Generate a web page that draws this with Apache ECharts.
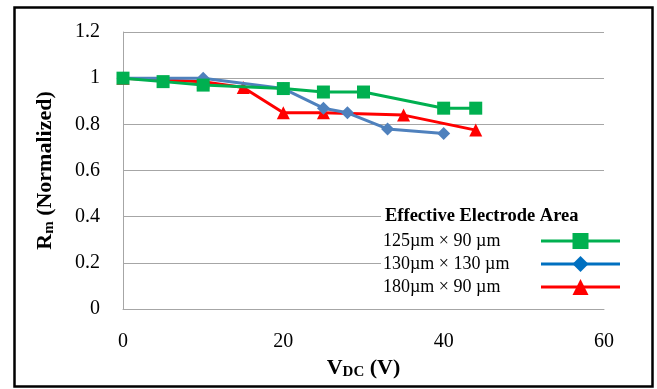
<!DOCTYPE html>
<html>
<head>
<meta charset="utf-8">
<script src="https://cdn.jsdelivr.net/npm/echarts@6/dist/echarts.min.js"></script>
<style>
  html, body { margin: 0; padding: 0; background: #fff; }
  #chart { width: 657px; height: 389px; }
</style>
</head>
<body>
<div id="chart"></div>
<script>
// data
var seriesNames = ['125µm × 90 µm', '130µm × 130 µm', '180µm × 90 µm']
var xGreen = [0, 5, 10, 20, 25, 30, 40, 44]
var yGreen = [1, 0.985, 0.97, 0.955, 0.94, 0.94, 0.87, 0.87]
var xBlue = [0, 10, 20, 25, 28, 33, 40]
var yBlue = [1, 1, 0.955, 0.87, 0.85, 0.78, 0.76]
var xRed = [0, 10, 15, 20, 25, 35, 44]
var yRed = [1, 0.985, 0.96, 0.85, 0.85, 0.84, 0.775]
var xTicks = [0, 20, 40, 60]
var yTicks = [0, 0.2, 0.4, 0.6, 0.8, 1, 1.2]

var serif = 'Liberation Serif'
var green = '#00b050', blue = '#4f81bd', red = '#ff0000'

function pairs(xs, ys) {
  return xs.map(function (x, i) { return [x, ys[i]] })
}

var nameRich = {
  b: { fontFamily: serif, fontSize: 22, fontWeight: 'bold', color: '#000' },
  s: { fontFamily: serif, fontSize: 15, fontWeight: 'bold', color: '#000', padding: [9, 0, 0, 0] }
}

var myChart = echarts.init(document.getElementById('chart'))

var option = {
  backgroundColor: '#fff',
  animation: false,
  grid: { left: 123, right: 53, top: 32, bottom: 80 },
  xAxis: {
    type: 'value',
    min: xTicks[0],
    max: xTicks[xTicks.length - 1],
    interval: 20,
    name: '{b|V}{s|DC}{b| (V)}',
    nameLocation: 'middle',
    nameGap: 46,
    nameTextStyle: { rich: nameRich },
    axisLine: { lineStyle: { color: '#a6a6a6', width: 1 } },
    axisTick: { show: false },
    splitLine: { show: false },
    axisLabel: { fontFamily: serif, fontSize: 20, color: '#000', margin: 23 }
  },
  yAxis: {
    type: 'value',
    min: yTicks[0],
    max: yTicks[yTicks.length - 1],
    interval: 0.2,
    name: '{b|R}{s|m}{b| (Normalized)}',
    nameLocation: 'middle',
    nameGap: 66,
    nameTextStyle: { rich: nameRich },
    axisLine: { show: true, lineStyle: { color: '#a6a6a6', width: 1 } },
    axisTick: { show: false },
    splitLine: { lineStyle: { color: '#a6a6a6', width: 1 } },
    axisLabel: { fontFamily: serif, fontSize: 20, color: '#000', margin: 23 }
  },
  legend: {
    orient: 'vertical',
    left: 381,
    top: 205,
    backgroundColor: '#fff',
    padding: [27, 2, 6, 2],
    align: 'right',
    itemWidth: 79,
    itemHeight: 20,
    itemGap: 5,
    lineStyle: { width: 3 },
    data: [
      { name: seriesNames[0] },
      { name: seriesNames[1], itemStyle: { color: '#0070c0' }, lineStyle: { color: '#0070c0', width: 3 } },
      { name: seriesNames[2] }
    ],
    formatter: '{t|{name}}',
    textStyle: {
      rich: {
        t: { width: 153, align: 'left', fontFamily: serif, fontSize: 18, color: '#000' }
      }
    }
  },
  graphic: [
    {
      type: 'text',
      left: 385,
      top: 207,
      z: 100,
      style: {
        text: 'Effective Electrode Area',
        fontFamily: serif,
        fontSize: 18.5,
        fontWeight: 'bold',
        fill: '#000'
      }
    },
    {
      type: 'rect',
      left: 12,
      top: 5,
      z: 100,
      shape: { width: 638, height: 379 },
      style: { fill: 'none', stroke: '#000', lineWidth: 2.5 }
    }
  ],
  series: [
    {
      name: seriesNames[2],
      type: 'line',
      z: 2,
      data: pairs(xRed, yRed),
      symbol: 'triangle',
      symbolSize: 13,
      lineStyle: { color: red, width: 3 },
      itemStyle: { color: red }
    },
    {
      name: seriesNames[1],
      type: 'line',
      z: 3,
      data: pairs(xBlue, yBlue),
      symbol: 'diamond',
      symbolSize: 13,
      lineStyle: { color: blue, width: 3 },
      itemStyle: { color: blue }
    },
    {
      name: seriesNames[0],
      type: 'line',
      z: 4,
      data: pairs(xGreen, yGreen),
      symbol: 'rect',
      symbolSize: 13,
      lineStyle: { color: green, width: 3 },
      itemStyle: { color: green }
    }
  ]
}

myChart.setOption(option)
</script>
</body>
</html>
